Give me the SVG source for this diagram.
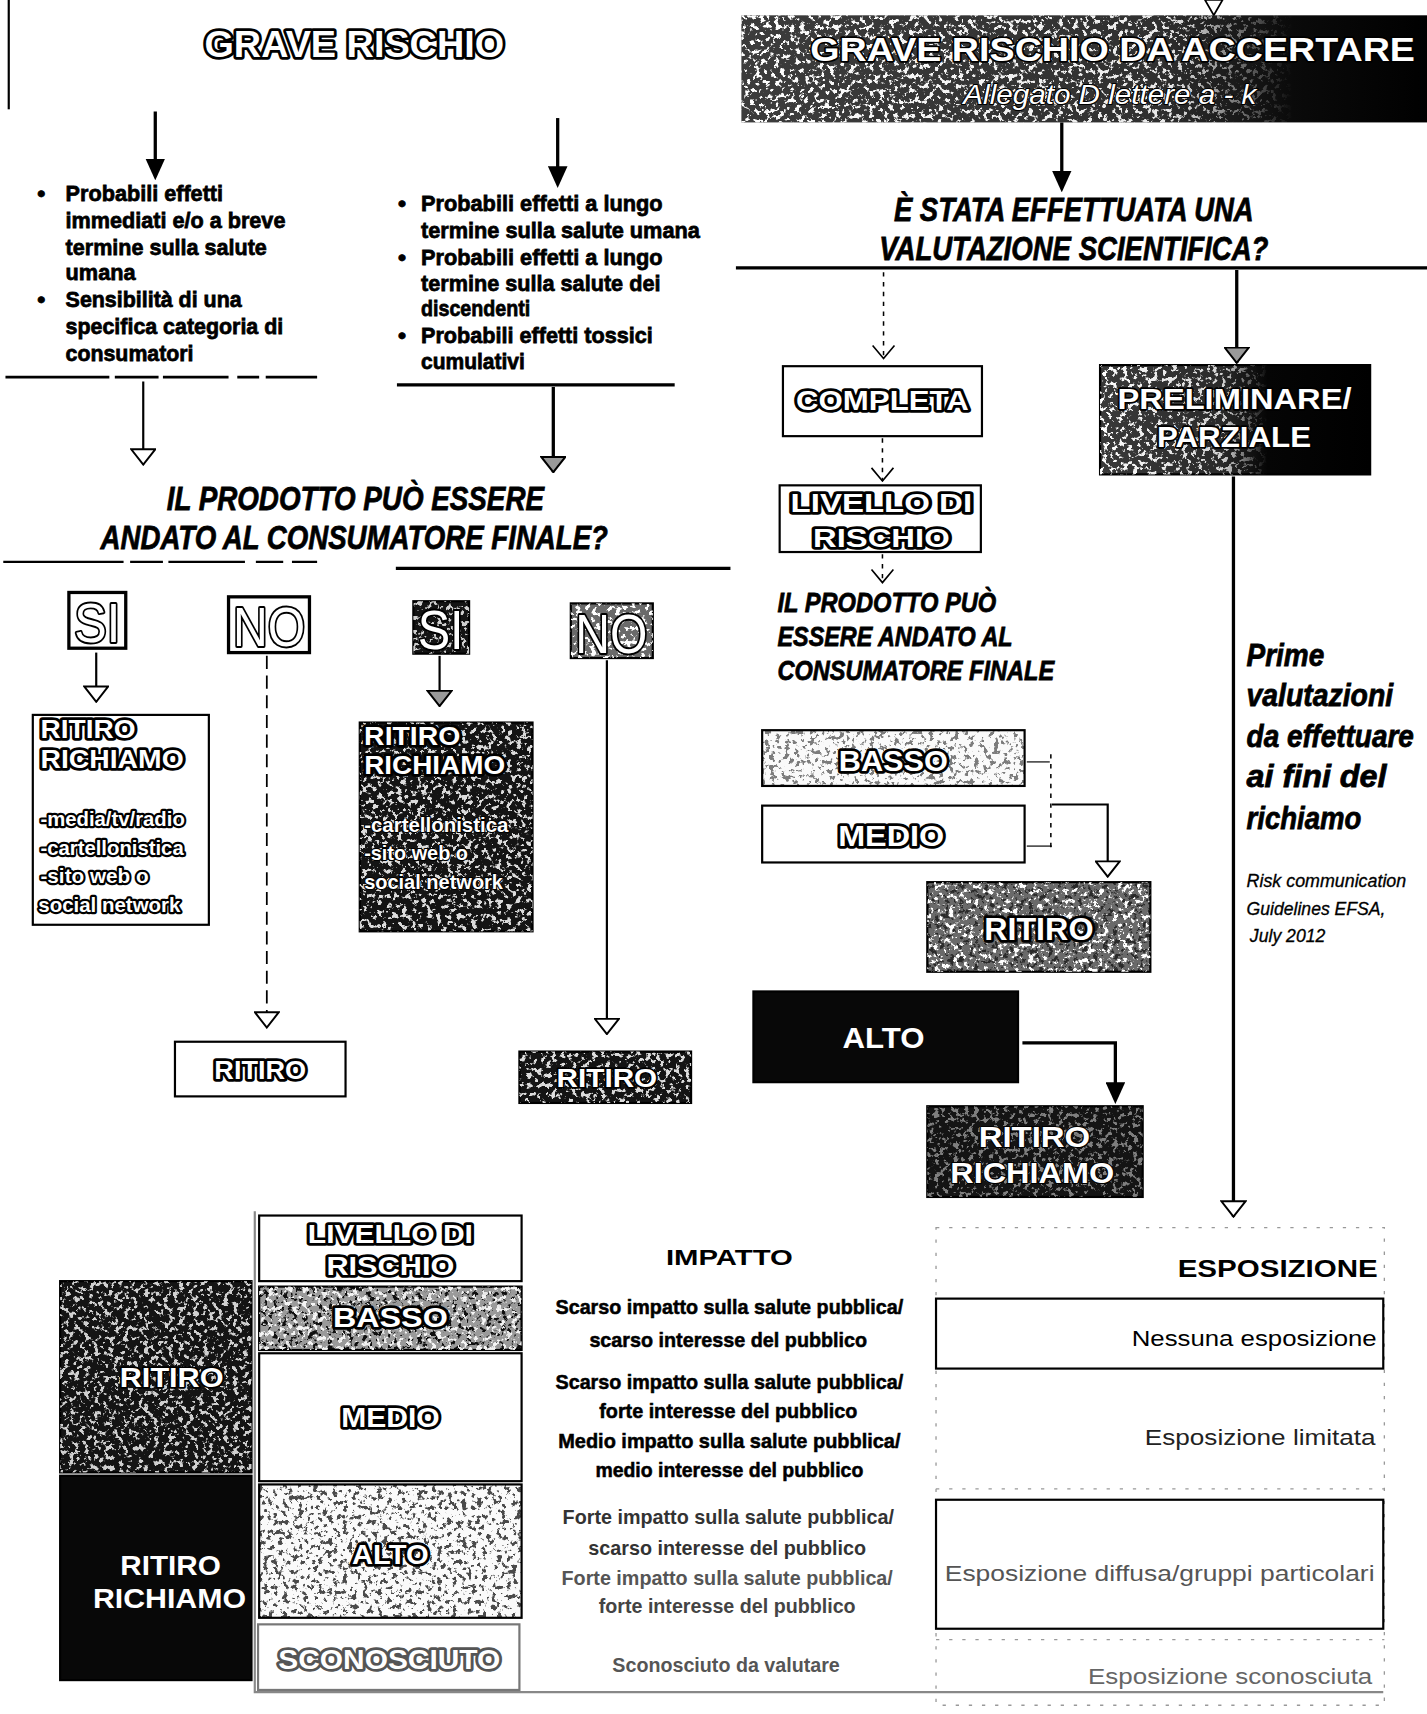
<svg xmlns="http://www.w3.org/2000/svg" width="1427" height="1714" viewBox="0 0 1427 1714">
<defs>
<style>
text{font-family:"Liberation Sans",Arial,sans-serif}
.b{font-weight:bold}
.i{font-style:italic}
.c{text-anchor:middle}
.e{text-anchor:end}
.hv{stroke:#000;stroke-width:0.7}
.ol{font-weight:bold;fill:#fff;stroke:#000;stroke-width:5;paint-order:stroke;stroke-linejoin:round}
.olr{fill:#fff;stroke:#000;stroke-width:3.5;paint-order:stroke;stroke-linejoin:round}
.olt{fill:#fff;stroke:#000;stroke-width:2;paint-order:stroke;stroke-linejoin:round}
.olg{font-weight:bold;fill:#fff;stroke:#555;stroke-width:5;paint-order:stroke;stroke-linejoin:round}
.wb{font-weight:bold;fill:#fff}
.box{fill:#fff;stroke:#000;stroke-width:2}
.gbox{fill:#fff;stroke:#777;stroke-width:2}
.dk{fill:#141414;stroke:#000;stroke-width:2}
.md{fill:#6a6a6a;stroke:#000;stroke-width:2}
.mdl{fill:#9a9a9a;stroke:#000;stroke-width:2}
.lt{fill:#fafafa;stroke:#000;stroke-width:2}
.ln{fill:none;stroke:#000;stroke-width:3}
.th{fill:none;stroke:#000;stroke-width:2}
.ds{fill:none;stroke:#000;stroke-width:1.6;stroke-dasharray:12 6}
.dv{fill:none;stroke:#000;stroke-width:1.4;stroke-dasharray:4 5}
.fr{fill:none;stroke:#999;stroke-width:1.2;stroke-dasharray:3 9}
</style>
<filter id="nw" x="0" y="0" width="1" height="1" color-interpolation-filters="sRGB">
<feTurbulence type="fractalNoise" baseFrequency="0.22" numOctaves="4" seed="7"/>
<feColorMatrix type="matrix" values="0 0 0 0 1  0 0 0 0 1  0 0 0 0 1  12 0 0 0 -6.6"/>
<feComposite in2="SourceAlpha" operator="in"/>
</filter>
<filter id="nk" x="0" y="0" width="1" height="1" color-interpolation-filters="sRGB">
<feTurbulence type="fractalNoise" baseFrequency="0.22" numOctaves="4" seed="19"/>
<feColorMatrix type="matrix" values="0 0 0 0 0  0 0 0 0 0  0 0 0 0 0  12 0 0 0 -6.6"/>
<feComposite in2="SourceAlpha" operator="in"/>
</filter>
<linearGradient id="gAcc" x1="0" y1="0" x2="1" y2="0">
<stop offset="0" stop-color="#3c3c3c"/><stop offset="0.6" stop-color="#303030"/><stop offset="0.8" stop-color="#0a0a0a"/><stop offset="1" stop-color="#000"/>
</linearGradient>
<linearGradient id="fAcc" x1="0" y1="0" x2="1" y2="0">
<stop offset="0" stop-color="#fff" stop-opacity="1"/><stop offset="0.62" stop-color="#fff" stop-opacity="0.9"/><stop offset="0.8" stop-color="#fff" stop-opacity="0"/>
</linearGradient>
<linearGradient id="gPre" x1="0" y1="0" x2="1" y2="0">
<stop offset="0" stop-color="#3a3a3a"/><stop offset="0.45" stop-color="#2a2a2a"/><stop offset="0.62" stop-color="#050505"/><stop offset="1" stop-color="#000"/>
</linearGradient>
<linearGradient id="fPre" x1="0" y1="0" x2="1" y2="0">
<stop offset="0" stop-color="#fff" stop-opacity="1"/><stop offset="0.45" stop-color="#fff" stop-opacity="0.8"/><stop offset="0.62" stop-color="#fff" stop-opacity="0"/>
</linearGradient>
<marker id="mF" viewBox="0 0 20 18" refX="10" refY="9" markerWidth="20" markerHeight="18" markerUnits="userSpaceOnUse" orient="auto"><path d="M0,0 L20,9 L0,18 Z" fill="#000"/></marker>
<marker id="mO" viewBox="0 0 16 24" refX="15" refY="12" markerWidth="16" markerHeight="24" markerUnits="userSpaceOnUse" orient="auto"><path d="M1,1 L15,12 L1,23 Z" fill="#fff" stroke="#000" stroke-width="1.8"/></marker>
<marker id="mG" viewBox="0 0 16 24" refX="15" refY="12" markerWidth="16" markerHeight="24" markerUnits="userSpaceOnUse" orient="auto"><path d="M1,1 L15,12 L1,23 Z" fill="#999" stroke="#000" stroke-width="1.8"/></marker>
<marker id="mV" viewBox="0 0 14 22" refX="13" refY="11" markerWidth="14" markerHeight="22" markerUnits="userSpaceOnUse" orient="auto"><path d="M1,1 L13,11 L1,21" fill="none" stroke="#000" stroke-width="1.5"/></marker>
</defs>
<rect width="1427" height="1714" fill="#fff"/>
<g transform="scale(1.09349 1.09311)">

<g id="connectors">
<path class="th" d="M8,0 V100"/>
<path class="ln" d="M142,102 V155" marker-end="url(#mF)"/>
<path class="ln" d="M510,108 V162" marker-end="url(#mF)"/>
<path d="M5,345 H290" fill="none" stroke="#000" stroke-width="2.5" stroke-dasharray="95 5 40 4 60 8 20 6 50"/>
<path class="ln" d="M363,352 H617"/>
<path class="th" d="M131,349 V425" marker-end="url(#mO)"/>
<path class="ln" d="M506,354 V432" marker-end="url(#mG)"/>
<path d="M3,514 H290" fill="none" stroke="#000" stroke-width="2.2" stroke-dasharray="110 6 30 5 70 10 25 8"/>
<path class="ln" d="M362,520 H668"/>
<path class="th" d="M88,597 V642" marker-end="url(#mO)"/>
<path class="ds" d="M244,600 V940" marker-end="url(#mO)"/>
<path class="th" d="M402,600 V646" marker-end="url(#mG)"/>
<path class="th" d="M555,604 V946" marker-end="url(#mO)"/>
<path d="M1102,0 L1118,0 L1110,14 Z" fill="#fff" stroke="#000" stroke-width="1.6"/>
<path class="ln" d="M971,112 V166" marker-end="url(#mF)"/>
<path class="ln" d="M673,245 H1305"/>
<path class="dv" d="M808,249 V328" marker-end="url(#mV)"/>
<path class="ln" d="M1131,247 V332" marker-end="url(#mG)"/>
<path class="dv" d="M807,401 V440" marker-end="url(#mV)"/>
<path class="dv" d="M807,507 V533" marker-end="url(#mV)"/>
<path d="M939,697 H960 M939,774 H962" fill="none" stroke="#555" stroke-width="1.5"/>
<path class="dv" d="M961,690 V778"/>
<path class="th" d="M962,736 H1013 V802" marker-end="url(#mO)"/>
<path class="ln" d="M935,954 H1020 V1000" marker-end="url(#mF)"/>
<path class="ln" d="M1128,436 V1113" marker-end="url(#mO)"/>
<path d="M233,1108 V1548 H1265" fill="none" stroke="#888" stroke-width="2"/>
</g>

<g id="n-grave-rischio">
<text class="ol" x="187" y="52" font-size="33" textLength="274" lengthAdjust="spacingAndGlyphs">GRAVE RISCHIO</text>
</g>

<g id="n-effetti-breve" class="b hv">
<text x="34" y="184" font-size="21">•</text>
<text x="60" y="184" font-size="21" textLength="144" lengthAdjust="spacingAndGlyphs">Probabili effetti</text>
<text x="60" y="209" font-size="21" textLength="201" lengthAdjust="spacingAndGlyphs">immediati e/o a breve</text>
<text x="60" y="233" font-size="21" textLength="184" lengthAdjust="spacingAndGlyphs">termine sulla salute</text>
<text x="60" y="256" font-size="21" textLength="64" lengthAdjust="spacingAndGlyphs">umana</text>
<text x="34" y="281" font-size="21">•</text>
<text x="60" y="281" font-size="21" textLength="161" lengthAdjust="spacingAndGlyphs">Sensibilità di una</text>
<text x="60" y="306" font-size="21" textLength="199" lengthAdjust="spacingAndGlyphs">specifica categoria di</text>
<text x="60" y="330" font-size="21" textLength="117" lengthAdjust="spacingAndGlyphs">consumatori</text>
</g>

<g id="n-effetti-lungo" class="b hv">
<text x="364" y="193" font-size="21">•</text>
<text x="385" y="193" font-size="21" textLength="221" lengthAdjust="spacingAndGlyphs">Probabili effetti a lungo</text>
<text x="385" y="218" font-size="21" textLength="255" lengthAdjust="spacingAndGlyphs">termine sulla salute umana</text>
<text x="364" y="242" font-size="21">•</text>
<text x="385" y="242" font-size="21" textLength="221" lengthAdjust="spacingAndGlyphs">Probabili effetti a lungo</text>
<text x="385" y="266" font-size="21" textLength="219" lengthAdjust="spacingAndGlyphs">termine sulla salute dei</text>
<text x="385" y="289" font-size="21" textLength="100" lengthAdjust="spacingAndGlyphs">discendenti</text>
<text x="364" y="314" font-size="21">•</text>
<text x="385" y="314" font-size="21" textLength="212" lengthAdjust="spacingAndGlyphs">Probabili effetti tossici</text>
<text x="385" y="338" font-size="21" textLength="95" lengthAdjust="spacingAndGlyphs">cumulativi</text>
</g>

<g id="n-domanda-1" class="b i hv">
<text class="c" x="325" y="467" font-size="31" textLength="345" lengthAdjust="spacingAndGlyphs">IL PRODOTTO PUÒ ESSERE</text>
<text class="c" x="324" y="502" font-size="31" textLength="464" lengthAdjust="spacingAndGlyphs">ANDATO AL CONSUMATORE FINALE?</text>
</g>

<g id="n-si-1">
<rect x="63" y="542" width="52" height="51" fill="#fff" stroke="#000" stroke-width="3"/>
<text class="olr c" x="89" y="587" font-size="50" textLength="42" lengthAdjust="spacingAndGlyphs">SI</text>
</g>
<g id="n-no-1">
<rect x="209" y="546" width="74" height="51" fill="#fff" stroke="#000" stroke-width="3"/>
<text class="olr c" x="246" y="591" font-size="50" textLength="66" lengthAdjust="spacingAndGlyphs">NO</text>
</g>
<g id="n-si-2">
<rect class="dk" x="378" y="550" width="51" height="48"/>
<rect x="378" y="550" width="51" height="48" fill="#fff" filter="url(#nw)" opacity="0.8"/>
<text class="olr c" x="403" y="594" font-size="50" textLength="42" lengthAdjust="spacingAndGlyphs">SI</text>
</g>
<g id="n-no-2">
<rect class="md" x="522" y="552" width="75" height="50"/>
<rect x="522" y="552" width="75" height="50" fill="#fff" filter="url(#nw)"/>
<text class="olr c" x="559" y="597" font-size="50" textLength="66" lengthAdjust="spacingAndGlyphs">NO</text>
</g>

<g id="n-ritiro-richiamo-1">
<rect class="box" x="30" y="654" width="161" height="192"/>
<text class="ol" x="37" y="675" font-size="23" textLength="87" lengthAdjust="spacingAndGlyphs">RITIRO</text>
<text class="ol" x="37" y="703" font-size="23" textLength="131" lengthAdjust="spacingAndGlyphs">RICHIAMO</text>
<text class="ol" x="37" y="756" font-size="19" style="stroke-width:4" textLength="132" lengthAdjust="spacingAndGlyphs">-media/tv/radio</text>
<text class="ol" x="37" y="782" font-size="19" style="stroke-width:4" textLength="131" lengthAdjust="spacingAndGlyphs">-cartellonistica</text>
<text class="ol" x="37" y="808" font-size="19" style="stroke-width:4" textLength="99" lengthAdjust="spacingAndGlyphs">-sito web o</text>
<text class="ol" x="35" y="834" font-size="19" style="stroke-width:4" textLength="130" lengthAdjust="spacingAndGlyphs">social network</text>
</g>

<g id="n-ritiro-richiamo-2">
<rect class="dk" x="329" y="661" width="158" height="191"/>
<rect x="329" y="661" width="158" height="191" fill="#fff" filter="url(#nw)" opacity="0.85"/>
<text class="ol" x="333" y="682" font-size="23" textLength="88" lengthAdjust="spacingAndGlyphs">RITIRO</text>
<text class="ol" x="333" y="708" font-size="23" textLength="129" lengthAdjust="spacingAndGlyphs">RICHIAMO</text>
<text class="olt b" x="333" y="761" font-size="19" textLength="132" lengthAdjust="spacingAndGlyphs">-cartellonistica</text>
<text class="olt b" x="333" y="787" font-size="19" textLength="95" lengthAdjust="spacingAndGlyphs">-sito web o</text>
<text class="olt b" x="333" y="813" font-size="19" textLength="127" lengthAdjust="spacingAndGlyphs">social network</text>
</g>

<g id="n-ritiro-1">
<rect class="box" x="160" y="953" width="156" height="50"/>
<text class="ol c" x="238" y="987" font-size="23" textLength="84" lengthAdjust="spacingAndGlyphs">RITIRO</text>
</g>
<g id="n-ritiro-2">
<rect class="dk" x="475" y="962" width="157" height="47"/>
<rect x="475" y="962" width="157" height="47" fill="#fff" filter="url(#nw)" opacity="0.85"/>
<text class="olt c b" x="555" y="994" font-size="23" style="stroke-width:3" textLength="92" lengthAdjust="spacingAndGlyphs">RITIRO</text>
</g>

<g id="n-grave-accertare">
<rect x="678" y="14" width="630" height="98" fill="url(#gAcc)"/>
<rect x="678" y="14" width="630" height="98" fill="url(#fAcc)" filter="url(#nw)"/>
<text class="olt b" x="741" y="56" font-size="31" style="stroke-width:3" textLength="553" lengthAdjust="spacingAndGlyphs">GRAVE RISCHIO DA ACCERTARE</text>
<text class="olt i" x="881" y="95" font-size="26" style="stroke-width:2" textLength="268" lengthAdjust="spacingAndGlyphs">Allegato D lettere a - k</text>
</g>

<g id="n-domanda-2" class="b i hv">
<text class="c" x="982" y="202" font-size="30" textLength="329" lengthAdjust="spacingAndGlyphs">È STATA EFFETTUATA UNA</text>
<text class="c" x="982" y="238" font-size="30" textLength="356" lengthAdjust="spacingAndGlyphs">VALUTAZIONE SCIENTIFICA?</text>
</g>

<g id="n-completa">
<rect class="box" x="716" y="335" width="182" height="64"/>
<text class="ol c" x="807" y="375" font-size="25" textLength="158" lengthAdjust="spacingAndGlyphs">COMPLETA</text>
</g>
<g id="n-preliminare">
<rect x="1006" y="334" width="247" height="100" fill="url(#gPre)" stroke="#000" stroke-width="2"/>
<rect x="1006" y="334" width="247" height="100" fill="url(#fPre)" filter="url(#nw)"/>
<text class="olt b" x="1022" y="374" font-size="27" style="stroke-width:3" textLength="214" lengthAdjust="spacingAndGlyphs">PRELIMINARE/</text>
<text class="olt b" x="1058" y="409" font-size="27" style="stroke-width:3" textLength="141" lengthAdjust="spacingAndGlyphs">PARZIALE</text>
</g>

<g id="n-livello-1">
<rect class="box" x="713" y="444" width="184" height="61"/>
<text class="ol c" x="806" y="468" font-size="23" textLength="166" lengthAdjust="spacingAndGlyphs">LIVELLO DI</text>
<text class="ol c" x="806" y="500" font-size="23" textLength="125" lengthAdjust="spacingAndGlyphs">RISCHIO</text>
</g>

<g id="n-domanda-3" class="b i hv">
<text x="711" y="560" font-size="26" textLength="200" lengthAdjust="spacingAndGlyphs">IL PRODOTTO PUÒ</text>
<text x="711" y="591" font-size="26" textLength="215" lengthAdjust="spacingAndGlyphs">ESSERE ANDATO AL</text>
<text x="711" y="622" font-size="26" textLength="253" lengthAdjust="spacingAndGlyphs">CONSUMATORE FINALE</text>
</g>

<g id="n-basso-1">
<rect class="lt" x="697" y="668" width="240" height="51"/>
<rect x="697" y="668" width="240" height="51" fill="#fff" filter="url(#nk)" opacity="0.5"/>
<text class="ol c" x="817" y="705" font-size="27" textLength="100" lengthAdjust="spacingAndGlyphs">BASSO</text>
</g>
<g id="n-medio-1">
<rect class="box" x="697" y="737" width="240" height="52"/>
<text class="ol c" x="815" y="774" font-size="27" textLength="97" lengthAdjust="spacingAndGlyphs">MEDIO</text>
</g>
<g id="n-ritiro-3">
<rect class="md" x="848" y="807" width="204" height="82"/>
<rect x="848" y="807" width="204" height="82" fill="#fff" filter="url(#nw)"/>
<rect x="848" y="807" width="204" height="82" fill="#fff" filter="url(#nk)" opacity="0.6"/>
<text class="ol c" x="950" y="860" font-size="28" textLength="100" lengthAdjust="spacingAndGlyphs">RITIRO</text>
</g>
<g id="n-alto-1">
<rect class="dk" x="689" y="907" width="242" height="83" style="fill:#080808"/>
<text class="wb c" x="808" y="959" font-size="27" textLength="75" lengthAdjust="spacingAndGlyphs">ALTO</text>
</g>
<g id="n-ritiro-richiamo-3">
<rect class="dk" x="848" y="1012" width="197" height="83"/>
<rect x="848" y="1012" width="197" height="83" fill="#fff" filter="url(#nw)" opacity="0.45"/>
<text class="olt b c" x="946" y="1049" font-size="27" textLength="102" lengthAdjust="spacingAndGlyphs">RITIRO</text>
<text class="olt b c" x="944" y="1082" font-size="27" textLength="150" lengthAdjust="spacingAndGlyphs">RICHIAMO</text>
</g>

<g id="n-prime-valutazioni" class="b i hv">
<text x="1140" y="609" font-size="28" textLength="71" lengthAdjust="spacingAndGlyphs">Prime</text>
<text x="1140" y="646" font-size="28" textLength="134" lengthAdjust="spacingAndGlyphs">valutazioni</text>
<text x="1140" y="683" font-size="28" textLength="153" lengthAdjust="spacingAndGlyphs">da effettuare</text>
<text x="1140" y="720" font-size="28" textLength="128" lengthAdjust="spacingAndGlyphs">ai fini del</text>
<text x="1140" y="758" font-size="28" textLength="105" lengthAdjust="spacingAndGlyphs">richiamo</text>
</g>
<g id="n-fonte" class="i" style="stroke:#000;stroke-width:0.3">
<text x="1140" y="811" font-size="17" textLength="146" lengthAdjust="spacingAndGlyphs">Risk communication</text>
<text x="1140" y="837" font-size="17" textLength="127" lengthAdjust="spacingAndGlyphs">Guidelines EFSA,</text>
<text x="1143" y="862" font-size="17" textLength="69" lengthAdjust="spacingAndGlyphs">July 2012</text>
</g>

<g id="n-tab-ritiro">
<rect class="dk" x="55" y="1172" width="175" height="175"/>
<rect x="55" y="1172" width="175" height="175" fill="#fff" filter="url(#nw)" opacity="0.8"/>
<text class="olt b c" x="157" y="1269" font-size="25" style="stroke-width:3" textLength="95" lengthAdjust="spacingAndGlyphs">RITIRO</text>
</g>
<g id="n-tab-ritiro-richiamo">
<rect class="dk" x="55" y="1350" width="175" height="187" style="fill:#080808"/>
<text class="wb c" x="156" y="1441" font-size="25" textLength="92" lengthAdjust="spacingAndGlyphs">RITIRO</text>
<text class="wb c" x="155" y="1471" font-size="25" textLength="140" lengthAdjust="spacingAndGlyphs">RICHIAMO</text>
</g>

<g id="n-tab-livello">
<rect class="box" x="237" y="1112" width="240" height="60"/>
<text class="ol c" x="357" y="1137" font-size="24" textLength="151" lengthAdjust="spacingAndGlyphs">LIVELLO DI</text>
<text class="ol c" x="357" y="1166" font-size="24" textLength="117" lengthAdjust="spacingAndGlyphs">RISCHIO</text>
</g>
<g id="n-tab-basso">
<rect class="mdl" x="237" y="1177" width="240" height="58"/>
<rect x="237" y="1177" width="240" height="58" fill="#fff" filter="url(#nk)" opacity="0.9"/>
<rect x="237" y="1177" width="240" height="58" fill="#fff" filter="url(#nw)" opacity="0.9"/>
<text class="ol c" x="357" y="1214" font-size="26" textLength="105" lengthAdjust="spacingAndGlyphs">BASSO</text>
</g>
<g id="n-tab-medio">
<rect class="box" x="237" y="1238" width="240" height="117"/>
<text class="ol c" x="357" y="1305" font-size="25" textLength="90" lengthAdjust="spacingAndGlyphs">MEDIO</text>
</g>
<g id="n-tab-alto">
<rect class="lt" x="237" y="1358" width="240" height="122"/>
<rect x="237" y="1358" width="240" height="122" fill="#fff" filter="url(#nk)" opacity="0.7"/>
<text class="ol c" x="357" y="1431" font-size="25" textLength="70" lengthAdjust="spacingAndGlyphs">ALTO</text>
</g>
<g id="n-tab-sconosciuto">
<rect class="gbox" x="236" y="1486" width="239" height="60"/>
<text class="olg c" x="356" y="1527" font-size="25" textLength="203" lengthAdjust="spacingAndGlyphs">SCONOSCIUTO</text>
</g>

<g id="n-impatto" class="b">
<text class="c" x="667" y="1157" font-size="21" textLength="116" lengthAdjust="spacingAndGlyphs">IMPATTO</text>
<g style="stroke:#000;stroke-width:0.5">
<text class="c" x="667" y="1202" font-size="19" textLength="318" lengthAdjust="spacingAndGlyphs">Scarso impatto sulla salute pubblica/</text>
<text class="c" x="666" y="1232" font-size="19" textLength="254" lengthAdjust="spacingAndGlyphs">scarso interesse del pubblico</text>
<text class="c" x="667" y="1271" font-size="19" textLength="318" lengthAdjust="spacingAndGlyphs">Scarso impatto sulla salute pubblica/</text>
<text class="c" x="666" y="1297" font-size="19" textLength="236" lengthAdjust="spacingAndGlyphs">forte interesse del pubblico</text>
<text class="c" x="667" y="1325" font-size="19" textLength="313" lengthAdjust="spacingAndGlyphs">Medio impatto sulla salute pubblica/</text>
<text class="c" x="667" y="1351" font-size="19" textLength="245" lengthAdjust="spacingAndGlyphs">medio interesse del pubblico</text>
</g>
<text class="c" x="666" y="1394" font-size="19" fill="#333" textLength="303" lengthAdjust="spacingAndGlyphs">Forte impatto sulla salute pubblica/</text>
<text class="c" x="665" y="1423" font-size="19" fill="#333" textLength="254" lengthAdjust="spacingAndGlyphs">scarso interesse del pubblico</text>
<text class="c" x="665" y="1450" font-size="19" fill="#555" textLength="303" lengthAdjust="spacingAndGlyphs">Forte impatto sulla salute pubblica/</text>
<text class="c" x="665" y="1476" font-size="19" fill="#444" textLength="235" lengthAdjust="spacingAndGlyphs">forte interesse del pubblico</text>
<text class="c" x="664" y="1530" font-size="18" fill="#555" textLength="208" lengthAdjust="spacingAndGlyphs">Sconosciuto da valutare</text>
</g>

<g id="n-esposizione">
<path class="fr" d="M856,1123 H1266 V1560 H856 Z M856,1362 H1266 M856,1500 H1266"/>
<text class="b e" x="1260" y="1168" font-size="22" textLength="183" lengthAdjust="spacingAndGlyphs">ESPOSIZIONE</text>
<rect class="box" x="856" y="1188" width="409" height="64"/>
<text class="e" x="1259" y="1231" font-size="20" textLength="224" lengthAdjust="spacingAndGlyphs">Nessuna esposizione</text>
<text class="e" x="1258" y="1322" font-size="20" fill="#222" textLength="211" lengthAdjust="spacingAndGlyphs">Esposizione limitata</text>
<rect class="box" x="856" y="1372" width="409" height="118"/>
<text class="e" x="1257" y="1446" font-size="20" fill="#555" textLength="393" lengthAdjust="spacingAndGlyphs">Esposizione diffusa/gruppi particolari</text>
<text class="e" x="1255" y="1541" font-size="20" fill="#666" textLength="260" lengthAdjust="spacingAndGlyphs">Esposizione sconosciuta</text>
</g>

</g>
</svg>
